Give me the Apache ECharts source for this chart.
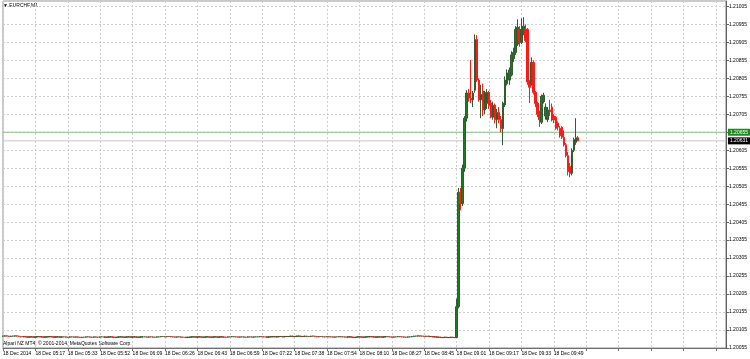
<!DOCTYPE html>
<html><head><meta charset="utf-8">
<script src="https://cdn.jsdelivr.net/npm/echarts@6/dist/echarts.min.js"></script>
<style>html,body{margin:0;padding:0;background:#fff}#c{width:750px;height:359px}</style>
</head><body><div id="c"></div>
<script>
// Prices are stored as points above 1.20000 (1 point = 0.00001)
const BASE = 1.20;
const POINT = 0.00001;
const symbolTitle = 'EURCHF,M1';
const copyrightText = 'Alpari NZ MT4, © 2001-2014, MetaQuotes Software Corp.';
const slotCount = 358; // bar slots visible on the chart (incl. right shift)

const openPts = [
 88,88,89,88,87,88,88,89,88,87, 86,87,86,85,86,86,85,86,87,86, 86,85,86,86,87,86,85,86,86,85,
 86,86,85,85,86,86,85,86,85,84, 85,85,86,86,85,85,86,85,85,86, 86,85,85,86,86,85,84,85,86,86,
 85,85,86,86,85,86,86,85,85,86, 86,86,85,86,86,85,85,86,86,87, 87,86,87,87,86,86,85,86,86,85,
 85,84,85,85,86,86,85,86,86,85, 85,86,86,85,85,86,86,85,86,86, 85,85,86,86,87,86,86,85,86,86,
 85,85,86,86,85,86,86,86,87,86, 86,85,86,86,87,86,86,87,87,86, 87,87,87,88,87,87,88,88,87,87,
 88,87,87,88,88,87,86,87,87,86, 86,87,86,86,85,86,86,87,86,86, 85,86,86,85,84,85,86,86,85,85,
 86,86,87,86,86,85,86,86,85,86, 87,86,86,85,86,86,87,86,86,85, 85,86,86,87,88,88,89,88,88,87,
 88,87,87,86,86,85,85,84,84,85, 84,84,85,84,
 84,170,488,457,555,694,764,750,745,772, 913,800,745,770,717,735,766,736,697,730,
 690,710,690,665,731,790,800,814,860,877, 900,941,905,930,941,941,795,790,849,766,
 736,710,683,740,700,690,717,725,700,697, 680,666,669,641,620,590,560,541,605,627, 640
];
const highPts = [
 89,90,90,89,89,89,90,90,89,88, 88,88,87,87,87,87,87,88,88,87, 87,87,87,88,88,87,87,87,87,87,
 87,87,86,87,87,87,87,87,86,86, 86,87,87,87,86,87,87,86,87,87, 87,86,87,87,87,86,86,87,87,87,
 86,87,87,87,87,87,87,86,87,87, 87,87,87,87,87,86,87,87,88,88, 88,88,88,88,87,87,87,87,87,86,
 86,86,86,87,87,87,87,87,87,86, 87,87,87,86,87,87,87,87,87,87, 86,87,87,88,88,87,87,87,87,87,
 86,87,87,87,87,87,87,88,88,87, 87,87,87,88,88,87,88,88,88,88, 88,88,89,89,88,89,89,89,88,89,
 89,88,89,89,89,88,88,88,88,87, 88,88,87,87,87,87,88,88,87,87, 87,87,87,86,86,87,87,87,86,87,
 87,88,88,87,87,87,87,87,87,88, 88,87,87,87,87,88,88,87,87,86, 87,87,88,89,89,90,90,89,89,89,
 89,88,88,87,87,86,86,85,86,86, 85,86,86,85,
 192,500,500,565,700,772,775,856,770,927, 925,805,787,790,770,775,770,745,740,735,
 720,725,700,740,810,830,835,880,890,950, 969,950,972,975,955,945,800,863,855,770,
 740,715,760,765,735,725,745,735,705,700, 685,672,672,660,625,600,570,610,640,694, 645
];
const lowPts = [
 87,87,87,86,86,87,87,87,86,85, 85,85,84,84,85,84,84,85,85,85, 84,84,85,85,85,84,84,85,84,84,
 85,84,84,84,85,84,84,84,83,83, 84,84,85,84,84,84,84,84,84,85, 84,84,84,85,84,83,83,84,85,84,
 84,84,85,84,84,85,84,84,84,85, 85,84,84,85,84,84,84,85,85,86, 85,85,86,85,85,84,84,85,84,84,
 83,83,84,84,85,84,84,85,84,84, 84,85,84,84,84,85,84,84,85,84, 84,84,85,85,85,85,84,84,85,84,
 84,84,85,84,84,85,85,85,85,85, 84,84,85,85,85,85,85,86,85,85, 86,86,86,86,86,86,87,86,86,86,
 86,86,86,87,86,85,85,86,85,85, 85,85,85,84,84,85,85,85,85,84, 84,85,84,83,83,84,85,84,84,84,
 85,85,85,85,84,84,85,84,84,85, 85,85,84,84,85,85,85,85,84,84, 84,85,85,86,87,87,87,87,86,86,
 86,86,85,85,84,84,83,83,83,83, 83,83,83,83,
 83,165,438,450,545,685,740,736,725,765, 795,740,694,700,705,720,720,694,690,680,
 666,680,655,619,725,785,787,810,850,870, 895,893,900,925,905,787,736,785,760,725,
 697,670,678,735,690,683,700,685,680,662, 660,640,636,615,585,535,530,535,600,620, 630
];
const closePts = [
 88,89,88,87,88,88,89,88,87,86, 87,86,85,86,86,85,86,87,86,86, 85,86,86,87,86,85,86,86,85,86,
 86,85,85,86,86,85,86,85,84,85, 85,86,86,85,85,86,85,85,86,86, 85,85,86,86,85,84,85,86,86,85,
 85,86,86,85,86,86,85,85,86,86, 86,85,86,86,85,85,86,86,87,87, 86,87,87,86,86,85,86,86,85,85,
 84,85,85,86,86,85,86,86,85,85, 86,86,85,85,86,86,85,86,86,85, 85,86,86,87,86,86,85,86,86,85,
 85,86,86,85,86,86,86,87,86,86, 85,86,86,87,86,86,87,87,86,87, 87,87,88,87,87,88,88,87,87,88,
 87,87,88,88,87,86,87,87,86,86, 87,86,86,85,86,86,87,86,86,85, 86,86,85,84,85,86,86,85,85,86,
 86,87,86,86,85,86,86,85,86,87, 86,86,85,86,86,87,86,86,85,85, 86,86,87,88,88,89,88,88,87,88,
 87,87,86,86,85,85,84,84,85,84, 84,85,84,84,
 170,488,457,555,694,764,750,745,764,913, 800,745,760,717,766,766,730,697,730,690,
 710,690,665,736,800,820,828,870,877,941, 947,905,941,950,910,795,780,849,766,735,
 705,690,755,758,725,717,712,689,689,666, 670,645,641,620,590,545,540,605,635,640, 631
];

const xTickLabels = ['18 Dec 2014','18 Dec 05:17','18 Dec 05:33','18 Dec 05:52','18 Dec 06:09','18 Dec 06:26',
 '18 Dec 06:43','18 Dec 06:59','18 Dec 07:22','18 Dec 07:38','18 Dec 07:54','18 Dec 08:10','18 Dec 08:27',
 '18 Dec 08:45','18 Dec 09:01','18 Dec 09:17','18 Dec 09:33','18 Dec 09:49'];
const barsPerXLabel = 16;

const yTickLabels = ['1.20055','1.20105','1.20155','1.20205','1.20255','1.20305','1.20355','1.20405','1.20455','1.20505',
 '1.20555','1.20605','1.20655','1.20705','1.20755','1.20805','1.20855','1.20905','1.20955','1.21005'];
const yMin = 1.20055, yMax = 1.21020, yStep = 0.0005;

const bidLine = 1.20655;  // green price tag
const lastLine = 1.20631; // black price tag

const cats = [];
for (let i = 0; i < slotCount; i++) cats.push(i);
const candles = openPts.map((o, i) => [
  +(BASE + o * POINT).toFixed(5),
  +(BASE + closePts[i] * POINT).toFixed(5),
  +(BASE + lowPts[i] * POINT).toFixed(5),
  +(BASE + highPts[i] * POINT).toFixed(5)
]);

const chart = echarts.init(document.getElementById('c'), null, {renderer: 'canvas'});
const FONT = 'Liberation Sans';
const priceLine = (value, text, lineColor, bg) => ({
  type: 'line', silent: true, symbol: 'none', z: 1,
  data: [[0, value], [slotCount - 1, value]],
  lineStyle: {color: lineColor, width: 1},
  endLabel: {show: true, distance: 2, formatter: text, color: '#ffffff', backgroundColor: bg,
    fontSize: 5, padding: [1, 2], fontFamily: FONT}
});
chart.setOption({
  animation: false,
  backgroundColor: '#ffffff',
  grid: {left: 1, right: 23, top: 1, bottom: 11, show: true, borderColor: '#909090', borderWidth: 1, containLabel: false},
  xAxis: {
    type: 'category', data: cats, boundaryGap: false,
    axisLine: {show: true, lineStyle: {color: '#707070', width: 1}},
    axisTick: {show: true, interval: barsPerXLabel - 1, length: 3, lineStyle: {color: '#707070'}},
    axisLabel: {
      interval: barsPerXLabel - 1, align: 'left', margin: 3, fontSize: 5, color: '#000', fontFamily: FONT,
      formatter: (v, idx) => { const k = idx / barsPerXLabel; return (Number.isInteger(k) && xTickLabels[k]) ? xTickLabels[k] : ''; }
    },
    splitLine: {show: true, interval: barsPerXLabel - 1, lineStyle: {color: '#cfcfcf', type: [2, 2], width: 1}}
  },
  yAxis: {
    type: 'value', position: 'right', min: yMin, max: yMax, interval: yStep, scale: true,
    axisLine: {show: true, lineStyle: {color: '#606060', width: 1}},
    axisTick: {show: true, length: 3, lineStyle: {color: '#606060'}},
    axisLabel: {
      margin: 3, fontSize: 5, color: '#000', fontFamily: FONT, showMaxLabel: false,
      formatter: v => { const k = Math.round((v - yMin) / yStep); return (Math.abs(v - yMin - k * yStep) < 1e-7 && yTickLabels[k]) ? yTickLabels[k] : ''; }
    },
    splitLine: {show: true, lineStyle: {color: '#cfcfcf', type: [2, 2], width: 1}}
  },
  series: [
    priceLine(bidLine, '1.20655', '#8cc08c', '#1e8a1e'),
    priceLine(lastLine, '1.20631', '#c4c4c4', '#000000'),
    {
      type: 'candlestick', data: candles, barWidth: 2, z: 3,
      itemStyle: {color: '#1c7c1c', color0: '#ff1a1a', borderColor: '#2e5e2e', borderColor0: '#ff1a1a', borderWidth: 1}
    }
  ],
  graphic: [
    {type: 'text', left: 3, top: 3, style: {text: '▼ ' + symbolTitle, fontSize: 5, fill: '#000', fontFamily: FONT}},
    {type: 'text', left: 3, top: 341, style: {text: copyrightText, fontSize: 5, fill: '#000', fontFamily: FONT}}
  ]
});
</script></body></html>
